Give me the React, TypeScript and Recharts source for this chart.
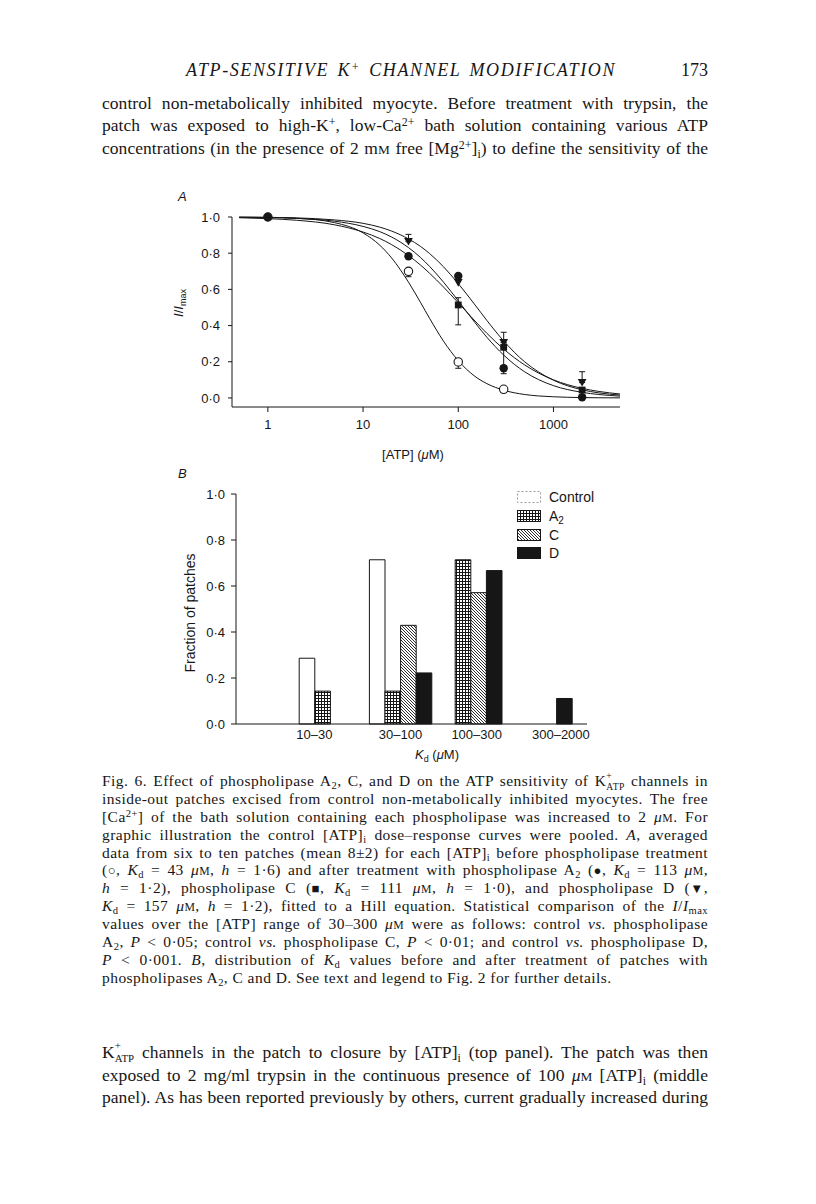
import React from 'react';
import {
  ComposedChart,
  Line,
  Scatter,
  ErrorBar,
  XAxis,
  YAxis,
  BarChart,
  Bar,
  Legend,
} from 'recharts';

// ---------- Panel A: I/Imax against [ATP] (µM) ----------
// fitted curves
const fitAtp = [0.5, 1, 2, 5, 10, 15, 20, 30, 40, 50, 70, 100, 150, 200, 300, 500, 700, 1000, 2000, 3000, 5000];
const fitControl = [0.999, 0.998, 0.993, 0.969, 0.912, 0.844, 0.773, 0.64, 0.529, 0.44, 0.314, 0.206, 0.119, 0.079, 0.043, 0.019, 0.011, 0.0065, 0.002, 0.001, 0.0005];
const fitA2 = [0.998, 0.997, 0.992, 0.977, 0.948, 0.919, 0.889, 0.831, 0.777, 0.727, 0.64, 0.537, 0.416, 0.335, 0.237, 0.144, 0.101, 0.068, 0.031, 0.019, 0.01];
const fitC = [0.996, 0.991, 0.982, 0.957, 0.917, 0.881, 0.847, 0.787, 0.735, 0.689, 0.613, 0.526, 0.425, 0.357, 0.27, 0.182, 0.137, 0.1, 0.053, 0.036, 0.022];
const fitD = [0.999, 0.998, 0.995, 0.984, 0.965, 0.944, 0.922, 0.879, 0.838, 0.798, 0.725, 0.632, 0.514, 0.428, 0.315, 0.199, 0.143, 0.098, 0.045, 0.028, 0.016];

// averaged points (null = hidden under another symbol)
const pointAtp = [1, 30, 100, 300, 2000];
const meanControl = [1.0, 0.7, 0.199, 0.048, null];
const meanA2 = [1.0, 0.783, 0.674, 0.164, 0.004];
const meanC = [null, null, 0.514, 0.28, 0.044];
const meanD = [null, 0.864, 0.637, 0.306, 0.085];

// [down, up] error bars
const errControl = [[0, 0], [0.03, 0], [0.035, 0], [0, 0], [0, 0]];
const errA2 = [[0, 0], [0, 0], [0, 0], [0.03, 0], [0, 0]];
const errC = [[0, 0], [0, 0], [0.11, 0.04], [0.1, 0], [0, 0]];
const errD = [[0, 0], [0, 0.04], [0, 0], [0, 0.057], [0, 0.06]];

// ---------- Panel B: distribution of Kd ----------
const kdBins = ['', '10–30', '30–100', '100–300', '300–2000'];
const fracControl = [0, 0.286, 0.714, 0, 0];
const fracA2 = [0, 0.143, 0.143, 0.714, 0];
const fracC = [0, 0, 0.429, 0.571, 0];
const fracD = [0, 0, 0.222, 0.667, 0.111];

const INK = '#161616';
const SANS = "'Liberation Sans', Arial, sans-serif";
const SERIF = "'Liberation Serif', 'DejaVu Serif', serif";

const toXY = (xs: number[], ys: (number | null)[]) =>
  xs.map((x, i) => ({ x, y: ys[i] })).filter((p) => p.y !== null);

const fitCurves = [fitControl, fitA2, fitC, fitD].map((ys) => toXY(fitAtp, ys));

const errPoints = [
  [meanControl, errControl],
  [meanA2, errA2],
  [meanC, errC],
  [meanD, errD],
].flatMap(([means, errs]: any) =>
  pointAtp
    .map((x, i) => ({ x, y: means[i], err: errs[i] }))
    .filter((p) => p.y !== null && p.err[0] + p.err[1] > 0)
);

const histData = kdBins.map((bin, i) => ({
  bin,
  control: fracControl[i],
  a2: fracA2[i],
  c: fracC[i],
  d: fracD[i],
}));

const dotTick = (v: number) => v.toFixed(1).replace('.', '·');

// symbols
const OpenCircle = (p: any) => <circle cx={p.cx} cy={p.cy} r={4.2} fill="#fff" stroke={INK} strokeWidth={1.1} />;
const FilledCircle = (p: any) => <circle cx={p.cx} cy={p.cy} r={4.2} fill={INK} />;
const FilledSquare = (p: any) => <rect x={p.cx - 3.4} y={p.cy - 3.4} width={6.8} height={6.8} fill={INK} />;
const DownTriangle = (p: any) => (
  <path d={`M${p.cx - 4.4},${p.cy - 3.6}L${p.cx + 4.4},${p.cy - 3.6}L${p.cx},${p.cy + 4}Z`} fill={INK} />
);
const NoSymbol = () => <g />;

const binNudge = [0, -16, 0, 6, 20];
const BinTick = (props: any) => {
  const { x, y, payload, index } = props;
  return (
    <text x={x + binNudge[index]} y={y} dy="0.71em" textAnchor="middle" fontSize={13} fontFamily={SANS} fill={INK}>
      {payload.value}
    </text>
  );
};

const legendItems = [
  { label: 'Control', fill: '#fff', dashed: true },
  { label: 'A', sub: '2', fill: 'url(#gridA2)' },
  { label: 'C', fill: 'url(#hatchC)' },
  { label: 'D', fill: INK },
];

const HistLegend = () => (
  <div style={{ fontFamily: SANS, fontSize: 14, color: INK }}>
    {legendItems.map((it) => (
      <div key={it.label} style={{ display: 'flex', alignItems: 'center', height: 18.7 }}>
        <svg width={24} height={12} style={{ marginRight: 8 }}>
          <rect
            x={0.5}
            y={0.5}
            width={23}
            height={11}
            fill={it.fill}
            stroke={it.dashed ? '#9a9a9a' : INK}
            strokeDasharray={it.dashed ? '2 2' : undefined}
            strokeWidth={1}
          />
        </svg>
        <span>
          {it.label}
          {it.sub ? <sub style={{ fontSize: 10, verticalAlign: '-0.3em', lineHeight: 0 }}>{it.sub}</sub> : null}
        </span>
      </div>
    ))}
  </div>
);

// page text helpers
const Sb = ({ children }: any) => (
  <sub style={{ fontSize: '0.68em', verticalAlign: '-0.3em', lineHeight: 0 }}>{children}</sub>
);
const Sp = ({ children }: any) => (
  <sup style={{ fontSize: '0.68em', verticalAlign: '0.45em', lineHeight: 0 }}>{children}</sup>
);
// K+ over ATP: superscript stacked above the subscript
const SupSub = ({ sup, sub }: any) => (
  <span style={{ position: 'relative', display: 'inline-block', fontSize: '0.62em' }}>
    <span style={{ position: 'absolute', left: 0, top: '-0.2em', lineHeight: 1 }}>{sup}</span>
    <span style={{ position: 'relative', top: '0.4em', lineHeight: 1 }}>{sub}</span>
  </span>
);
const Sym = ({ children }: any) => (
  <span style={{ display: 'inline-block', fontSize: '0.85em' }}>{children}</span>
);
const Sc = ({ children }: any) => <span style={{ fontSize: '0.76em' }}>{children}</span>;
const UM = () => (
  <>
    <i>μ</i>
    <Sc>M</Sc>
  </>
);

const Row = ({ y, size, spacing, last, children }: any) => (
  <div
    style={{
      position: 'absolute',
      left: 102,
      width: 606,
      top: y - size * 0.65,
      height: size * 1.3,
      lineHeight: `${size * 1.3}px`,
      fontSize: size,
      letterSpacing: spacing,
      whiteSpace: 'nowrap',
      textAlign: last ? 'left' : 'justify',
      textAlignLast: last ? 'left' : 'justify',
      textJustify: 'inter-word',
    }}
  >
    {children}
  </div>
);

const capY = (i: number) => 781 + i * 17.9;
const CAP = 15.5;
const CAP_LS = 0.45;
const BODY = 17.5;
const BODY_LS = 0.05;

export default function App() {
  return (
    <div
      style={{
        position: 'absolute',
        left: 0,
        top: 0,
        width: 816,
        height: 1204,
        background: '#fff',
        color: INK,
        fontFamily: SERIF,
      }}
    >
      {/* running head */}
      <div
        style={{
          position: 'absolute',
          left: 186,
          width: 430,
          top: 60,
          fontSize: 18,
          letterSpacing: 1.6,
          fontStyle: 'italic',
          whiteSpace: 'nowrap',
          textAlign: 'justify',
          textAlignLast: 'justify',
          textJustify: 'inter-word',
        }}
      >
        ATP-SENSITIVE K<Sp>+</Sp> CHANNEL MODIFICATION
      </div>
      <div style={{ position: 'absolute', left: 660, width: 48, top: 60, fontSize: 18, textAlign: 'right' }}>173</div>

      <Row y={103} size={BODY} spacing={BODY_LS}>
        control non-metabolically inhibited myocyte. Before treatment with trypsin, the
      </Row>
      <Row y={125.5} size={BODY} spacing={BODY_LS}>
        patch was exposed to high-K<Sp>+</Sp>, low-Ca<Sp>2+</Sp> bath solution containing various ATP
      </Row>
      <Row y={148} size={BODY} spacing={BODY_LS}>
        concentrations (in the presence of 2 m<Sc>M</Sc> free [Mg<Sp>2+</Sp>]<Sb>i</Sb>) to define the sensitivity of the
      </Row>

      {/* panel letters */}
      <div style={{ position: 'absolute', left: 178, top: 189, fontFamily: SANS, fontStyle: 'italic', fontSize: 13 }}>A</div>
      <div style={{ position: 'absolute', left: 178, top: 466, fontFamily: SANS, fontStyle: 'italic', fontSize: 13 }}>B</div>

      {/* Panel A */}
      <div style={{ position: 'absolute', left: 150, top: 180 }}>
        <ComposedChart width={500} height={290} margin={{ top: 37, right: 30, left: 32, bottom: 33 }}>
          <XAxis
            dataKey="x"
            type="number"
            scale="log"
            domain={[0.42, 5000]}
            ticks={[1, 10, 100, 1000]}
            height={30}
            tickSize={5}
            tickMargin={8}
            stroke={INK}
            tick={{ fontSize: 13, fontFamily: SANS, fill: INK }}
            label={() => (
              <text x={263} y={279} textAnchor="middle" fontSize={13} fontFamily={SANS} fill={INK}>
                [ATP] (<tspan fontStyle="italic">μ</tspan>M)
              </text>
            )}
          />
          <YAxis
            type="number"
            domain={[-0.05, 1]}
            ticks={[0, 0.2, 0.4, 0.6, 0.8, 1]}
            tickFormatter={dotTick}
            width={50}
            tickSize={4}
            tickMargin={8}
            stroke={INK}
            tick={{ fontSize: 13, fontFamily: SANS, fill: INK }}
            label={() => (
              <text transform="translate(33,123) rotate(-90)" textAnchor="middle" fontSize={13} fontFamily={SANS} fill={INK}>
                <tspan fontStyle="italic">I</tspan>/<tspan fontStyle="italic">I</tspan>
                <tspan fontSize={9} dy={3}>max</tspan>
              </text>
            )}
          />
          {fitCurves.map((pts, i) => (
            <Line
              key={i}
              data={pts}
              dataKey="y"
              type="monotone"
              stroke={INK}
              strokeWidth={1}
              dot={false}
              activeDot={false}
              isAnimationActive={false}
            />
          ))}
          <Scatter data={errPoints} dataKey="y" shape={NoSymbol} isAnimationActive={false}>
            <ErrorBar dataKey="err" direction="y" width={3} stroke={INK} strokeWidth={1} />
          </Scatter>
          <Scatter data={toXY(pointAtp, meanControl)} dataKey="y" shape={OpenCircle} isAnimationActive={false} />
          <Scatter data={toXY(pointAtp, meanC)} dataKey="y" shape={FilledSquare} isAnimationActive={false} />
          <Scatter data={toXY(pointAtp, meanD)} dataKey="y" shape={DownTriangle} isAnimationActive={false} />
          <Scatter data={toXY(pointAtp, meanA2)} dataKey="y" shape={FilledCircle} isAnimationActive={false} />
        </ComposedChart>
      </div>

      {/* Panel B */}
      <div style={{ position: 'absolute', left: 150, top: 470 }}>
        <BarChart
          width={460}
          height={300}
          data={histData}
          margin={{ top: 24, right: 23, left: 36, bottom: 16 }}
          barGap={0}
          barSize={15.6}
        >
          <defs>
            <pattern id="gridA2" width="3" height="3" patternUnits="userSpaceOnUse">
              <rect width="3" height="3" fill="#fff" />
              <path d="M0,0.5H3M0.5,0V3" stroke={INK} strokeWidth={1} />
            </pattern>
            <pattern id="hatchC" width="3" height="3" patternUnits="userSpaceOnUse">
              <rect width="3" height="3" fill="#fff" />
              <path d="M0,0L3,3M-1,2L1,4M2,-1L4,1" stroke={INK} strokeWidth={0.9} />
            </pattern>
          </defs>
          <XAxis
            dataKey="bin"
            interval={0}
            padding={{ left: -11, right: 11 }}
            tickLine={false}
            tickMargin={0}
            height={30}
            stroke={INK}
            tick={<BinTick />}
            label={() => (
              <text x={287} y={289} textAnchor="middle" fontSize={13} fontFamily={SANS} fill={INK}>
                <tspan fontStyle="italic">K</tspan>
                <tspan fontSize={9} dy={3}>d</tspan>
                <tspan dy={-3}> (</tspan>
                <tspan fontStyle="italic">μ</tspan>M)
              </text>
            )}
          />
          <YAxis
            type="number"
            domain={[0, 1]}
            ticks={[0, 0.2, 0.4, 0.6, 0.8, 1]}
            tickFormatter={dotTick}
            width={50}
            tickSize={5}
            tickMargin={6}
            stroke={INK}
            tick={{ fontSize: 13, fontFamily: SANS, fill: INK }}
            label={() => (
              <text transform="translate(45,143) rotate(-90)" textAnchor="middle" fontSize={14} fontFamily={SANS} fill={INK}>
                Fraction of patches
              </text>
            )}
          />
          <Legend
            layout="vertical"
            align="center"
            verticalAlign="middle"
            wrapperStyle={{ left: 367, top: 18, width: 'auto' }}
            content={() => <HistLegend />}
          />
          <Bar dataKey="control" name="Control" fill="#fff" stroke={INK} strokeWidth={1} isAnimationActive={false} />
          <Bar dataKey="a2" name="A2" fill="url(#gridA2)" stroke={INK} strokeWidth={1} isAnimationActive={false} />
          <Bar dataKey="c" name="C" fill="url(#hatchC)" stroke={INK} strokeWidth={1} isAnimationActive={false} />
          <Bar dataKey="d" name="D" fill={INK} stroke={INK} strokeWidth={1} isAnimationActive={false} />
        </BarChart>
      </div>

      {/* figure legend */}
      <Row y={capY(0)} size={CAP} spacing={CAP_LS}>
        Fig. 6. Effect of phospholipase A<Sb>2</Sb>, C, and D on the ATP sensitivity of K<SupSub sup="+" sub="ATP" /> channels in
      </Row>
      <Row y={capY(1)} size={CAP} spacing={CAP_LS}>
        inside-out patches excised from control non-metabolically inhibited myocytes. The free
      </Row>
      <Row y={capY(2)} size={CAP} spacing={CAP_LS}>
        [Ca<Sp>2+</Sp>] of the bath solution containing each phospholipase was increased to 2 <UM />. For
      </Row>
      <Row y={capY(3)} size={CAP} spacing={CAP_LS}>
        graphic illustration the control [ATP]<Sb>i</Sb> dose–response curves were pooled. <i>A</i>, averaged
      </Row>
      <Row y={capY(4)} size={CAP} spacing={CAP_LS}>
        data from six to ten patches (mean 8±2) for each [ATP]<Sb>i</Sb> before phospholipase treatment
      </Row>
      <Row y={capY(5)} size={CAP} spacing={CAP_LS}>
        (<Sym>○</Sym>, <i>K</i><Sb>d</Sb> = 43 <UM />, <i>h</i> = 1·6) and after treatment with phospholipase A<Sb>2</Sb> (<Sym>●</Sym>, <i>K</i><Sb>d</Sb> = 113 <UM />,
      </Row>
      <Row y={capY(6)} size={CAP} spacing={CAP_LS}>
        <i>h</i> = 1·2), phospholipase C (<Sym>■</Sym>, <i>K</i><Sb>d</Sb> = 111 <UM />, <i>h</i> = 1·0), and phospholipase D (<Sym>▼</Sym>,
      </Row>
      <Row y={capY(7)} size={CAP} spacing={CAP_LS}>
        <i>K</i><Sb>d</Sb> = 157 <UM />, <i>h</i> = 1·2), fitted to a Hill equation. Statistical comparison of the <i>I</i>/<i>I</i><Sb>max</Sb>
      </Row>
      <Row y={capY(8)} size={CAP} spacing={CAP_LS}>
        values over the [ATP] range of 30–300 <UM /> were as follows: control <i>vs.</i> phospholipase
      </Row>
      <Row y={capY(9)} size={CAP} spacing={CAP_LS}>
        A<Sb>2</Sb>, <i>P</i> &lt; 0·05; control <i>vs.</i> phospholipase C, <i>P</i> &lt; 0·01; and control <i>vs.</i> phospholipase D,
      </Row>
      <Row y={capY(10)} size={CAP} spacing={CAP_LS}>
        <i>P</i> &lt; 0·001. <i>B</i>, distribution of <i>K</i><Sb>d</Sb> values before and after treatment of patches with
      </Row>
      <Row y={capY(11)} size={CAP} spacing={CAP_LS} last>
        phospholipases A<Sb>2</Sb>, C and D. See text and legend to Fig. 2 for further details.
      </Row>

      <Row y={1052} size={BODY} spacing={BODY_LS}>
        K<SupSub sup="+" sub="ATP" /> channels in the patch to closure by [ATP]<Sb>i</Sb> (top panel). The patch was then
      </Row>
      <Row y={1075} size={BODY} spacing={BODY_LS}>
        exposed to 2 mg/ml trypsin in the continuous presence of 100 <UM /> [ATP]<Sb>i</Sb> (middle
      </Row>
      <Row y={1097.5} size={BODY} spacing={BODY_LS}>
        panel). As has been reported previously by others, current gradually increased during
      </Row>
    </div>
  );
}
